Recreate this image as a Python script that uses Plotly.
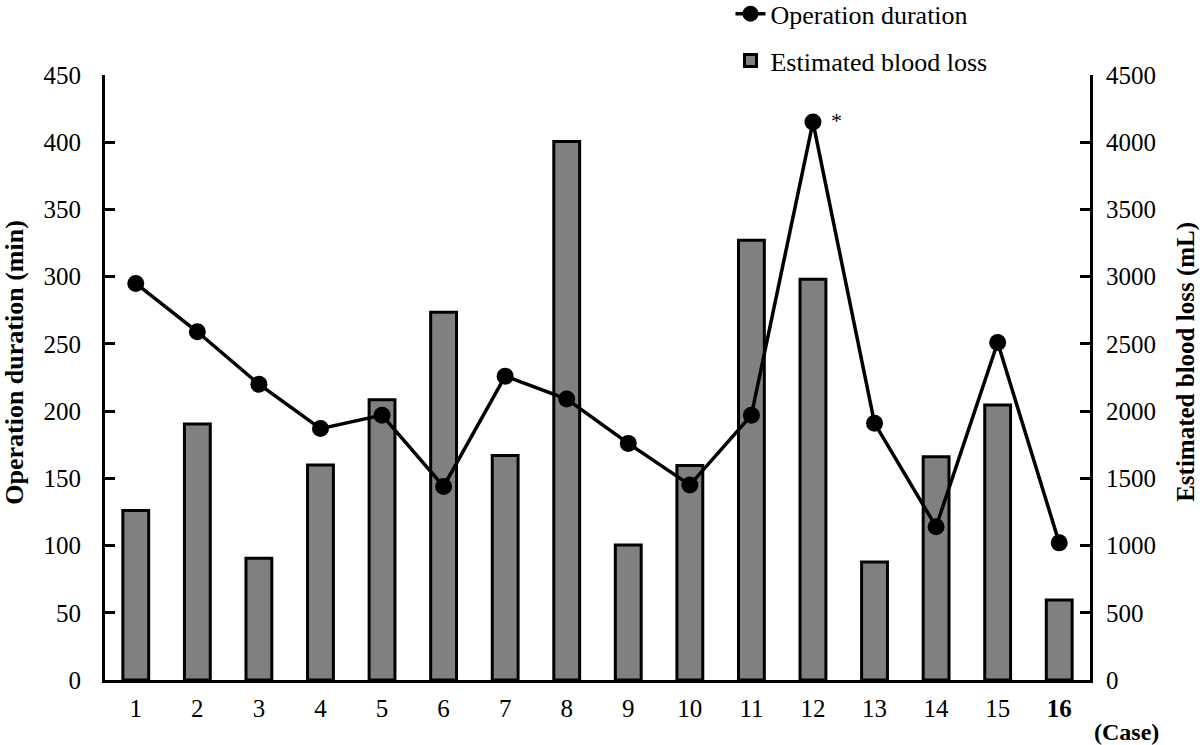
import plotly.graph_objects as go

cases = list(range(1, 17))
case_labels = [str(c) for c in cases[:-1]] + ["<b>16</b>"]
operation_duration = [295, 259, 220, 187, 197, 144, 226, 209, 176, 145, 197, 415, 191, 114, 251, 102]
blood_loss = [1260, 1905, 905, 1600, 2085, 2735, 1670, 4005, 1005, 1595, 3270, 2980, 877, 1660, 2045, 595]
left_ticks = list(range(0, 451, 50))
right_ticks = list(range(0, 4501, 500))

FONT = "Liberation Serif, Times New Roman, serif"

fig = go.Figure()
fig.add_trace(go.Scatter(
    x=cases, y=operation_duration, yaxis="y2", name="Operation duration",
    mode="lines+markers", line=dict(color="black", width=3.5),
    marker=dict(color="black", size=17), legendgroup="a",
))
fig.add_trace(go.Bar(
    x=cases, y=blood_loss, yaxis="y", name="Estimated blood loss",
    width=0.42, marker=dict(color="#808080", line=dict(color="black", width=3)),
    legendgroup="b",
))

axis_common = dict(showline=True, linewidth=3, linecolor="black", showgrid=False,
                   zeroline=False, ticks="inside", ticklen=10, tickwidth=3,
                   tickcolor="black", tickfont=dict(family=FONT, size=25, color="black"))

fig.update_layout(
    width=1200, height=745,
    margin=dict(l=105, r=110, t=75, b=65, autoexpand=False),
    plot_bgcolor="white", paper_bgcolor="white",
    font=dict(family=FONT, size=25, color="black"),
    xaxis=dict(range=[0.5, 16.5], tickmode="array", tickvals=cases, ticktext=case_labels,
               showline=True, linewidth=3, linecolor="black", showgrid=False, zeroline=False,
               ticks="", ticklabelstandoff=4,
               tickfont=dict(family=FONT, size=25, color="black")),
    yaxis=dict(range=[0, 4500], side="right", tickmode="array", tickvals=right_ticks,
               ticklabelstandoff=8, **axis_common),
    yaxis2=dict(range=[0, 450], side="left", overlaying="y", tickmode="array",
                tickvals=left_ticks, ticklabelstandoff=16, **axis_common),
    legend=dict(x=0.635, y=1.14, xanchor="left", yanchor="top", traceorder="grouped",
                tracegroupgap=10, font=dict(family=FONT, size=26, color="black"),
                bgcolor="rgba(0,0,0,0)"),
    showlegend=True,
)

fig.add_annotation(text="<b>Operation duration (min)</b>", textangle=-90,
                   xref="paper", yref="paper", x=-0.0914, y=0.526, showarrow=False,
                   xanchor="center", yanchor="middle",
                   font=dict(family=FONT, size=26, color="black"))
fig.add_annotation(text="<b>Estimated blood loss (mL)</b>", textangle=-90,
                   xref="paper", yref="paper", x=1.0975, y=0.526, showarrow=False,
                   xanchor="center", yanchor="middle",
                   font=dict(family=FONT, size=25, color="black"))
fig.add_annotation(text="<b>(Case)</b>", xref="paper", yref="paper",
                   x=1.0366, y=-0.086, showarrow=False,
                   xanchor="center", yanchor="middle",
                   font=dict(family=FONT, size=24, color="black"))
fig.add_annotation(text="*", x=cases[11], y=operation_duration[11], xref="x", yref="y2",
                   xshift=24, yshift=2, showarrow=False,
                   font=dict(family=FONT, size=22, color="black"))

fig.write_html("out.html", config={"displayModeBar": False},
               post_script="document.body.style.margin='0';document.body.style.overflow='hidden';")
